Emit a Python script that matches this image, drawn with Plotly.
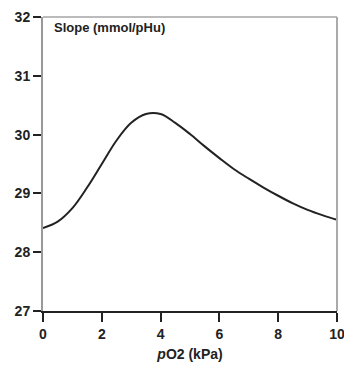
import plotly.graph_objects as go

po2 = [0, 0.5, 1, 1.5, 2, 2.5, 3, 3.5, 4, 4.5, 5, 5.5, 6, 6.5, 7, 7.5, 8, 8.5, 9, 9.5, 10]
slope = [28.41, 28.52, 28.75, 29.10, 29.50, 29.90, 30.20, 30.35, 30.35, 30.20,
         30.01, 29.80, 29.60, 29.41, 29.25, 29.10, 28.96, 28.83, 28.72, 28.63, 28.55]
xticks = [0, 2, 4, 6, 8, 10]
yticks = [27, 28, 29, 30, 31, 32]

font = "Liberation Sans"

fig = go.Figure()
fig.add_trace(go.Scatter(x=po2, y=slope, mode="lines",
                         line=dict(color="#222", width=2, shape="spline", smoothing=1.0),
                         hoverinfo="skip"))

fig.update_layout(
    width=344, height=366,
    margin=dict(l=43, r=7, t=17, b=55),
    paper_bgcolor="white", plot_bgcolor="white",
    showlegend=False,
    xaxis=dict(range=[0, 10], tickvals=xticks, ticktext=[str(v) for v in xticks],
               showgrid=False, zeroline=False, showline=True, linecolor="#222", linewidth=2,
               ticks="outside", ticklen=9, tickwidth=2, tickcolor="#222",
               ticklabeloverflow="allow", automargin=False,
               tickfont=dict(family=font, size=14, color="#222", weight="bold"),
               title=dict(text="<i>p</i>O2 (kPa)",
                          font=dict(family=font, size=14, color="#222", weight="bold"),
                          standoff=8)),
    yaxis=dict(range=[27, 32], tickvals=yticks, ticktext=[str(v) for v in yticks],
               showgrid=False, zeroline=False, showline=True, linecolor="#999", linewidth=2,
               ticks="outside", ticklen=8, tickwidth=2, tickcolor="#222",
               ticklabeloverflow="allow", automargin=False,
               tickfont=dict(family=font, size=14, color="#222", weight="bold")),
    shapes=[
        dict(type="line", xref="paper", yref="paper", x0=0, x1=1, y0=1, y1=1,
             line=dict(color="#bbb", width=2)),
        dict(type="line", xref="paper", yref="paper", x0=1, x1=1, y0=0, y1=1,
             line=dict(color="#aaa", width=2)),
    ],
    annotations=[
        dict(text="Slope (mmol/pHu)", xref="paper", yref="paper", x=0.03, y=0.995,
             xanchor="left", yanchor="top", showarrow=False,
             font=dict(family=font, size=13, color="#222", weight="bold")),
    ],
)

fig.write_html("out.html")
